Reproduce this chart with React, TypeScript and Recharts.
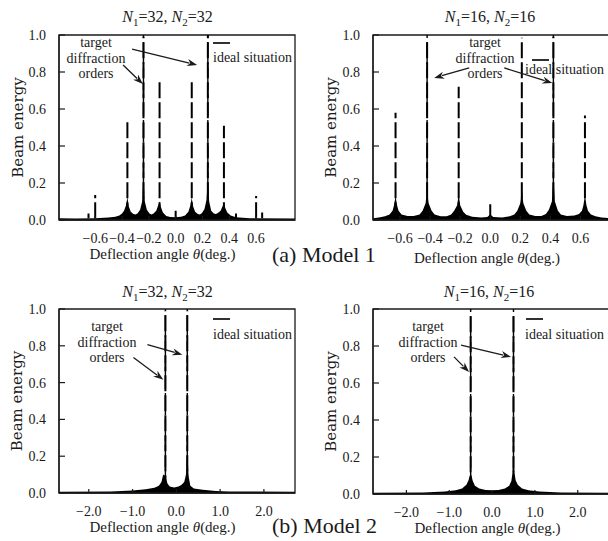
import React from "react";
import {
  ComposedChart,
  Area,
  Line,
  XAxis,
  YAxis,
  ReferenceLine,
  ReferenceArea,
  Label,
} from "recharts";

// [angle (deg), energy] pairs

// Model 1, N1 = N2 = 32
const m1n32Envelope: [number, number][] = [
  [-0.87, 0.01], [-0.75, 0.008], [-0.6, 0.01], [-0.5, 0.013], [-0.45, 0.018],
  [-0.42, 0.025], [-0.4, 0.035], [-0.385, 0.05], [-0.37, 0.08], [-0.36, 0.125],
  [-0.35, 0.075], [-0.335, 0.045], [-0.315, 0.032], [-0.3, 0.03], [-0.285, 0.035],
  [-0.265, 0.055], [-0.25, 0.1], [-0.24, 0.22], [-0.23, 0.1], [-0.215, 0.055],
  [-0.195, 0.035], [-0.18, 0.03], [-0.165, 0.035], [-0.145, 0.05], [-0.13, 0.08],
  [-0.12, 0.1], [-0.11, 0.07], [-0.095, 0.04], [-0.07, 0.022], [-0.04, 0.016],
  [0, 0.015], [0.04, 0.018], [0.07, 0.025], [0.095, 0.045], [0.11, 0.08],
  [0.12, 0.12], [0.13, 0.075], [0.145, 0.045], [0.165, 0.033], [0.18, 0.03],
  [0.195, 0.036], [0.215, 0.06], [0.23, 0.11], [0.24, 0.22], [0.25, 0.1],
  [0.265, 0.05], [0.285, 0.035], [0.3, 0.033], [0.315, 0.038], [0.335, 0.05],
  [0.35, 0.075], [0.36, 0.09], [0.37, 0.065], [0.385, 0.04], [0.41, 0.025],
  [0.45, 0.015], [0.55, 0.01], [0.89, 0.008],
];
const m1n32Peaks: [number, number][] = [
  [-0.65, 0.035], [-0.6, 0.135], [-0.36, 0.53], [-0.24, 0.99], [-0.12, 0.755],
  [0, 0.05], [0.12, 0.765], [0.24, 1.0], [0.36, 0.51], [0.45, 0.035],
  [0.6, 0.13], [0.645, 0.04],
];
const m1n32Targets = [-0.24, 0.24];
const m1n32Arrows = [
  [-0.392, 0.838, -0.245, 0.735],
  [-0.325, 0.924, 0.16, 0.838],
];

// Model 1, N1 = N2 = 16
const m1n16Envelope: [number, number][] = [
  [-0.78, 0.01], [-0.74, 0.014], [-0.7, 0.02], [-0.67, 0.03], [-0.65, 0.05],
  [-0.64, 0.08], [-0.63, 0.13], [-0.62, 0.08], [-0.61, 0.05], [-0.59, 0.03],
  [-0.55, 0.022], [-0.51, 0.022], [-0.47, 0.03], [-0.45, 0.05], [-0.43, 0.09],
  [-0.42, 0.17], [-0.41, 0.09], [-0.39, 0.05], [-0.37, 0.03], [-0.33, 0.02],
  [-0.29, 0.02], [-0.26, 0.03], [-0.24, 0.05], [-0.22, 0.08], [-0.21, 0.14],
  [-0.2, 0.08], [-0.18, 0.045], [-0.16, 0.028], [-0.12, 0.018], [-0.06, 0.014],
  [-0.02, 0.016], [0, 0.03], [0.02, 0.016], [0.08, 0.014], [0.13, 0.02],
  [0.16, 0.03], [0.18, 0.05], [0.2, 0.09], [0.21, 0.17], [0.22, 0.09],
  [0.24, 0.05], [0.26, 0.03], [0.3, 0.022], [0.34, 0.022], [0.37, 0.032],
  [0.39, 0.055], [0.41, 0.1], [0.42, 0.23], [0.43, 0.1], [0.45, 0.05],
  [0.47, 0.03], [0.51, 0.022], [0.56, 0.024], [0.59, 0.032], [0.61, 0.05],
  [0.62, 0.08], [0.63, 0.135], [0.64, 0.08], [0.65, 0.05], [0.67, 0.03],
  [0.7, 0.02], [0.74, 0.013], [0.79, 0.01],
];
const m1n16Peaks: [number, number][] = [
  [-0.63, 0.58], [-0.42, 0.98], [-0.21, 0.72], [0, 0.085],
  [0.21, 0.985], [0.42, 0.99], [0.63, 0.565],
];
const m1n16Targets = [-0.42, 0.42];
const m1n16Arrows = [
  [-0.14, 0.822, -0.373, 0.768],
  [0.093, 0.822, 0.413, 0.74],
];

// Model 2, N1 = N2 = 32
const m2n32Envelope: [number, number][] = [
  [-2.68, 0.007], [-1.5, 0.008], [-1.0, 0.013], [-0.7, 0.02], [-0.5, 0.028],
  [-0.4, 0.04], [-0.34, 0.06], [-0.3, 0.1], [-0.27, 0.095], [-0.24, 0.08],
  [-0.2, 0.05], [-0.15, 0.035], [-0.05, 0.03], [0.05, 0.035], [0.12, 0.045],
  [0.18, 0.06], [0.22, 0.1], [0.25, 0.235], [0.28, 0.09], [0.32, 0.04],
  [0.4, 0.025], [0.6, 0.018], [0.9, 0.011], [1.2, 0.008], [2.71, 0.007],
];
const m2n32Peaks: [number, number][] = [[-0.25, 0.99], [0.25, 0.99]];
const m2n32Targets = [-0.25, 0.25];
const m2n32Arrows = [
  [-0.98, 0.736, -0.296, 0.616],
  [-0.66, 0.807, 0.137, 0.752],
];

// Model 2, N1 = N2 = 16
const m2n16Envelope: [number, number][] = [
  [-2.78, 0.007], [-1.6, 0.008], [-1.1, 0.013], [-0.85, 0.02], [-0.7, 0.03],
  [-0.6, 0.05], [-0.55, 0.075], [-0.5, 0.115], [-0.45, 0.07], [-0.4, 0.045],
  [-0.3, 0.03], [-0.15, 0.022], [0, 0.02], [0.15, 0.022], [0.3, 0.03],
  [0.4, 0.045], [0.45, 0.07], [0.5, 0.15], [0.55, 0.075], [0.6, 0.05],
  [0.7, 0.03], [0.85, 0.02], [1.1, 0.013], [1.6, 0.008], [2.73, 0.007],
];
const m2n16Peaks: [number, number][] = [[-0.5, 0.98], [0.5, 0.98]];
const m2n16Targets = [-0.5, 0.5];
const m2n16Arrows = [
  [-0.888, 0.741, -0.537, 0.659],
  [-0.724, 0.805, 0.444, 0.741],
];

const fineTicks = [-0.6, -0.4, -0.2, 0, 0.2, 0.4, 0.6];
const wideTicks = [-2, -1, 0, 1, 2];
const energyTicks = [0, 0.2, 0.4, 0.6, 0.8, 1.0];

const SERIF = "'Liberation Serif', 'Times New Roman', serif";
const INK = "#1a1a1a";

const fmt = (v: number) => (v < 0 ? "\u2212" : "") + Math.abs(v).toFixed(1);

const arrowShape = (p: any) => {
  const { x1, y1, x2, y2 } = p;
  const a = Math.atan2(y2 - y1, x2 - x1);
  const len = 10;
  const w = 3.6;
  const bx = x2 - len * Math.cos(a);
  const by = y2 - len * Math.sin(a);
  const pts = `${x2},${y2} ${bx + w * Math.sin(a)},${by - w * Math.cos(a)} ${bx + 3 * Math.cos(a)},${by + 3 * Math.sin(a)} ${bx - w * Math.sin(a)},${by + w * Math.cos(a)}`;
  return (
    <g>
      <line x1={x1} y1={y1} x2={bx + 2 * Math.cos(a)} y2={by + 2 * Math.sin(a)} stroke={INK} strokeWidth={1.3} />
      <polygon points={pts} fill={INK} />
    </g>
  );
};

interface PanelProps {
  left: number;
  top: number;
  width: number;
  height: number;
  marginTop: number;
  marginRight: number;
  yAxisWidth: number;
  xAxisHeight: number;
  domain: [number, number];
  ticks: number[];
  envelope: [number, number][];
  peaks: [number, number][];
  targets: number[];
  arrows: number[][];
  yTitleX: number;
  xTitleDx: number;
  xTitleLift: number;
}

function Panel(p: PanelProps) {
  const envData = p.envelope.map(([angle, energy]) => ({ angle, energy }));
  // each peak is its own vertical stroke, broken by a null
  const spikeData = p.peaks.flatMap(([angle, energy]) => [
    { angle, energy: 0.01 },
    { angle, energy },
    { angle, energy: null },
  ]);

  const xTitle = (props: any) => {
    const { x, y, width, height } = props.viewBox;
    return (
      <text
        x={x + width / 2 + p.xTitleDx}
        y={y + height - p.xTitleLift}
        textAnchor="middle"
        fontFamily={SERIF}
        fontSize={15}
        fill={INK}
      >
        Deflection angle <tspan fontStyle="italic">θ</tspan>(deg.)
      </text>
    );
  };

  const yTitle = (props: any) => {
    const { x, y, height } = props.viewBox;
    const cx = x + p.yTitleX;
    const cy = y + height / 2;
    return (
      <text
        x={cx}
        y={cy}
        transform={`rotate(-90, ${cx}, ${cy})`}
        textAnchor="middle"
        dominantBaseline="central"
        fontFamily="'DejaVu Serif', serif"
        fontSize={15}
        fill={INK}
      >
        Beam energy
      </text>
    );
  };

  return (
    <div style={{ position: "absolute", left: p.left, top: p.top }}>
      <ComposedChart
        width={p.width}
        height={p.height}
        margin={{ top: p.marginTop, right: p.marginRight, bottom: 0, left: 0 }}
      >
        <XAxis
          type="number"
          dataKey="angle"
          domain={p.domain}
          ticks={p.ticks}
          interval={0}
          allowDataOverflow
          tickFormatter={fmt}
          height={p.xAxisHeight}
          tickSize={-4}
          tickMargin={17}
          tickLine={{ stroke: INK, strokeWidth: 1.2 }}
          axisLine={{ stroke: INK, strokeWidth: 1.3 }}
          tick={{ fontFamily: SERIF, fontSize: 14, fill: INK }}
          label={<Label content={xTitle} />}
        />
        <YAxis
          type="number"
          domain={[0, 1]}
          ticks={energyTicks}
          interval={0}
          allowDataOverflow
          tickFormatter={(v: number) => v.toFixed(1)}
          width={p.yAxisWidth}
          tickSize={-6}
          tickMargin={19}
          tickLine={{ stroke: INK, strokeWidth: 1.2 }}
          axisLine={{ stroke: INK, strokeWidth: 1.3 }}
          tick={{ fontFamily: SERIF, fontSize: 14, fill: INK }}
          label={<Label content={yTitle} />}
        />
        <ReferenceArea
          x1={p.domain[0]}
          x2={p.domain[1]}
          y1={0}
          y2={1}
          fill="none"
          fillOpacity={0}
          stroke={INK}
          strokeWidth={1.3}
        />
        <Area
          data={envData}
          dataKey="energy"
          type="linear"
          stroke="none"
          fill="#000"
          fillOpacity={1}
          dot={false}
          activeDot={false}
          isAnimationActive={false}
        />
        <Line
          data={spikeData}
          dataKey="energy"
          type="linear"
          stroke="#000"
          strokeWidth={2}
          strokeDasharray="16 4"
          dot={false}
          activeDot={false}
          isAnimationActive={false}
        />
        {p.targets.map((t) => (
          <ReferenceLine
            key={t}
            x={t}
            stroke="#000"
            strokeWidth={1.4}
            strokeDasharray="22 4"
          />
        ))}
        {p.arrows.map((a, i) => (
          <ReferenceLine
            key={`arrow-${i}`}
            segment={[
              { x: a[0], y: a[1] },
              { x: a[2], y: a[3] },
            ]}
            shape={arrowShape}
          />
        ))}
      </ComposedChart>
    </div>
  );
}

function Title({ x, y, n }: { x: number; y: number; n: number }) {
  return (
    <text x={x} y={y} textAnchor="middle" fontFamily={SERIF} fontSize={16} fill={INK}>
      <tspan fontStyle="italic">N</tspan>
      <tspan fontSize={11} dy={4}>1</tspan>
      <tspan dy={-4}>={n}, </tspan>
      <tspan fontStyle="italic">N</tspan>
      <tspan fontSize={11} dy={4}>2</tspan>
      <tspan dy={-4}>={n}</tspan>
    </text>
  );
}

function Notes({ cx, y0, lx, ly, tx, ty }: { cx: number; y0: number; lx: number; ly: number; tx: number; ty: number }) {
  return (
    <g fontFamily={SERIF} fontSize={14} fill={INK}>
      <text x={cx} y={y0} textAnchor="middle">target</text>
      <text x={cx} y={y0 + 15.5} textAnchor="middle">diffraction</text>
      <text x={cx} y={y0 + 31} textAnchor="middle">orders</text>
      <line x1={lx} y1={ly} x2={lx + 17} y2={ly} stroke={INK} strokeWidth={1.8} />
      <text x={tx} y={ty}>ideal situation</text>
    </g>
  );
}

export default function App() {
  return (
    <div
      style={{
        position: "absolute",
        left: 0,
        top: 0,
        width: 608,
        height: 541,
        overflow: "hidden",
        background: "#fff",
      }}
    >
      <Panel
        left={0} top={0} width={304} height={280}
        marginTop={35} marginRight={9} yAxisWidth={59} xAxisHeight={60}
        domain={[-0.87, 0.89]} ticks={fineTicks}
        envelope={m1n32Envelope} peaks={m1n32Peaks} targets={m1n32Targets} arrows={m1n32Arrows}
        yTitleX={18} xTitleDx={-14.5} xTitleLift={21}
      />
      <Panel
        left={304} top={0} width={310} height={280}
        marginTop={35} marginRight={5} yAxisWidth={69} xAxisHeight={60}
        domain={[-0.78, 0.79]} ticks={fineTicks}
        envelope={m1n16Envelope} peaks={m1n16Peaks} targets={m1n16Targets} arrows={m1n16Arrows}
        yTitleX={27} xTitleDx={-4} xTitleLift={17}
      />
      <Panel
        left={0} top={280} width={304} height={261}
        marginTop={29} marginRight={9} yAxisWidth={59} xAxisHeight={48}
        domain={[-2.68, 2.71]} ticks={wideTicks}
        envelope={m2n32Envelope} peaks={m2n32Peaks} targets={m2n32Targets} arrows={m2n32Arrows}
        yTitleX={17} xTitleDx={-14.5} xTitleLift={9.5}
      />
      <Panel
        left={304} top={280} width={310} height={261}
        marginTop={29} marginRight={5} yAxisWidth={69} xAxisHeight={47}
        domain={[-2.78, 2.73]} ticks={wideTicks}
        envelope={m2n16Envelope} peaks={m2n16Peaks} targets={m2n16Targets} arrows={m2n16Arrows}
        yTitleX={27} xTitleDx={-3.5} xTitleLift={8.5}
      />
      <svg
        width={608}
        height={541}
        style={{ position: "absolute", left: 0, top: 0, pointerEvents: "none" }}
      >
        <Title x={167.5} y={22} n={32} />
        <Title x={490} y={22} n={16} />
        <Title x={167.5} y={297} n={32} />
        <Title x={489} y={297} n={16} />
        <Notes cx={96} y0={47} lx={213} ly={43} tx={213} ty={62} />
        <Notes cx={485} y0={47} lx={532} ly={60} tx={525} ty={74} />
        <Notes cx={107} y0={331} lx={213} ly={319} tx={213} ty={339} />
        <Notes cx={428} y0={331} lx={526} ly={319} tx={525} ty={339} />
        <text x={272} y={262} fontFamily={SERIF} fontSize={22} fill={INK}>(a) Model 1</text>
        <text x={272} y={533} fontFamily={SERIF} fontSize={22} fill={INK}>(b) Model 2</text>
      </svg>
    </div>
  );
}
